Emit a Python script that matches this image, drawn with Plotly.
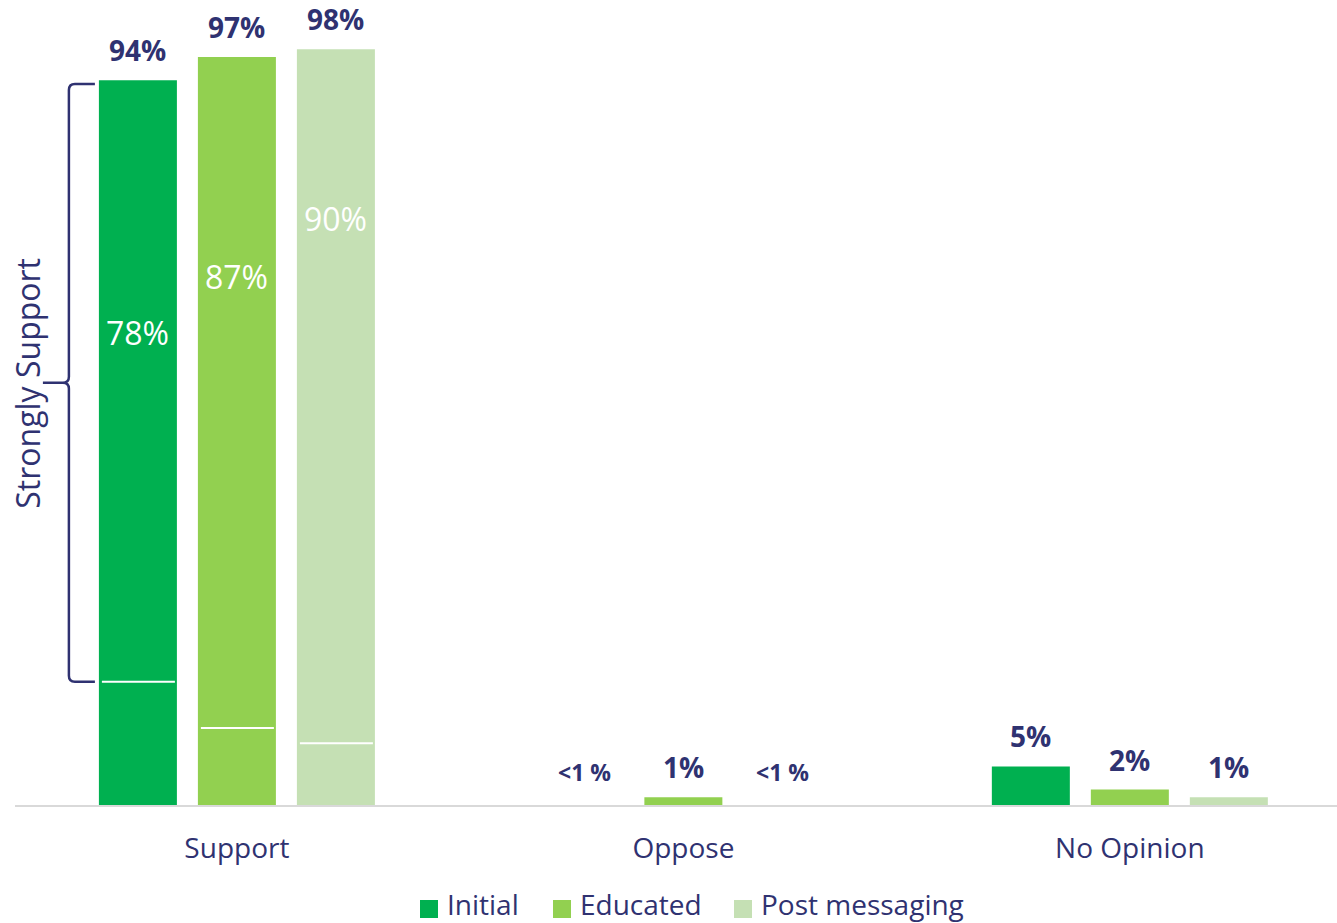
import plotly.graph_objects as go

# ---- data ----
categories = ["Support", "Oppose", "No Opinion"]
series_names = ["Initial", "Educated", "Post messaging"]
initial = [94, 0, 5]
educated = [97, 1, 2]
post_messaging = [98, 0, 1]
initial_labels = ["94%", "<1 %", "5%"]
educated_labels = ["97%", "1%", "2%"]
post_labels = ["98%", "<1 %", "1%"]
strongly_support = [78, 87, 90]          # share of "Support" that is strong
strongly_labels = ["78%", "87%", "90%"]

# ---- styling ----
COLORS = ["#00B050", "#92D050", "#C5E0B4"]
NAVY = "#2F3271"
FONT = "Open Sans"
W, H = 1337, 923
M_L, M_R, M_T, M_B = 15, 0, 0, 118
PLOT_W = W - M_L - M_R
PLOT_H = H - M_T - M_B
X_MIN, X_MAX = -0.497, 2.464
Y_MAX = 104.4
XPX = (X_MAX - X_MIN) / PLOT_W   # x units per pixel
YPX = Y_MAX / PLOT_H             # y units per pixel
BAR_W = 78 * XPX
STEP = 99 * XPX
OFFSETS = [-STEP, 0, STEP]
STRONG_LABEL_Y = [61.3, 68.5, 76.0]  # where the inner percentages sit

# legend layout, in pixels from the page's top-left corner
LEGEND_SWATCH_X = [420, 553, 734]
LEGEND_Y = 909
SWATCH = 18


def paper_x(px):
    return (px - M_L) / PLOT_W


def paper_y(py):
    return (H - M_B - py) / PLOT_H


values = [initial, educated, post_messaging]
labels = [initial_labels, educated_labels, post_labels]

fig = go.Figure()
annotations = []
shapes = []

for s, name in enumerate(series_names):
    xs = [i + OFFSETS[s] for i in range(len(categories))]
    fig.add_trace(go.Bar(
        x=xs, y=values[s], width=BAR_W, name=name,
        marker=dict(color=COLORS[s], line=dict(width=0)),
        showlegend=False, hoverinfo="skip",
    ))
    for i, v in enumerate(values[s]):
        small = "<" in labels[s][i]
        annotations.append(dict(
            x=xs[i], y=v, xref="x", yref="y", text=labels[s][i],
            showarrow=False, yanchor="middle", yshift=30 if not small else 33,
            borderpad=0,
            font=dict(family=FONT, size=28 if not small else 23,
                      color=NAVY, weight="bold"),
        ))

    # strongly-support segment boundary inside the Support bar
    total = values[s][0]
    boundary = total - strongly_support[s]
    x0 = xs[0] - BAR_W / 2
    shapes.append(dict(
        type="line", xref="x", yref="y",
        x0=x0 + 3 * XPX, x1=x0 + BAR_W - 2 * XPX, y0=boundary, y1=boundary,
        line=dict(color="white", width=2),
    ))
    annotations.append(dict(
        x=xs[0], y=STRONG_LABEL_Y[s], xref="x", yref="y",
        text=strongly_labels[s], showarrow=False,
        font=dict(family=FONT, size=32, color="white"),
    ))

    # legend entry: colour swatch + name
    sx = LEGEND_SWATCH_X[s]
    shapes.append(dict(
        type="rect", xref="paper", yref="paper",
        x0=paper_x(sx), x1=paper_x(sx + SWATCH),
        y0=paper_y(LEGEND_Y + SWATCH / 2), y1=paper_y(LEGEND_Y - SWATCH / 2),
        fillcolor=COLORS[s], line=dict(width=0),
    ))
    annotations.append(dict(
        x=paper_x(sx + SWATCH + 8), y=paper_y(LEGEND_Y - 5),
        xref="paper", yref="paper", text=name, showarrow=False,
        xanchor="left", yanchor="middle", borderpad=0,
        font=dict(family=FONT, size=28, color=NAVY),
    ))

# curly bracket spanning the strong segment of the first Support bar
bar_left = OFFSETS[0] - BAR_W / 2
y_top = initial[0] - 0.5
y_bot = initial[0] - strongly_support[0]
y_mid = (y_top + y_bot) / 2
xe = bar_left - 4 * XPX
xv = bar_left - 30 * XPX
xt = bar_left - 56 * XPX
rx, ry = 6 * XPX, 6 * YPX
path = (f"M {xe},{y_top} L {xv + rx},{y_top} Q {xv},{y_top} {xv},{y_top - ry} "
        f"L {xv},{y_mid + ry} Q {xv},{y_mid} {xv - rx},{y_mid} L {xt},{y_mid} "
        f"L {xv - rx},{y_mid} Q {xv},{y_mid} {xv},{y_mid - ry} "
        f"L {xv},{y_bot + ry} Q {xv},{y_bot} {xv + rx},{y_bot} L {xe},{y_bot}")
shapes.append(dict(type="path", xref="x", yref="y", path=path,
                   line=dict(color=NAVY, width=2.5)))
annotations.append(dict(
    x=bar_left - 71 * XPX, y=y_mid, xref="x", yref="y",
    text="Strongly Support", textangle=-90, showarrow=False,
    xanchor="center", yanchor="middle",
    font=dict(family=FONT, size=32, color=NAVY),
))

fig.update_layout(
    width=W, height=H,
    margin=dict(l=M_L, r=M_R, t=M_T, b=M_B, autoexpand=False),
    plot_bgcolor="white", paper_bgcolor="white",
    barmode="overlay", showlegend=False,
    font=dict(family=FONT, color=NAVY),
    annotations=annotations, shapes=shapes,
    xaxis=dict(range=[X_MIN, X_MAX], tickvals=list(range(len(categories))),
               ticktext=categories, showgrid=False, zeroline=False,
               showline=True, linecolor="#D9D9D9", linewidth=2, ticks="",
               ticklabelstandoff=17, automargin=False,
               tickfont=dict(family=FONT, size=28, color=NAVY), fixedrange=True),
    yaxis=dict(range=[0, Y_MAX], visible=False, showgrid=False,
               zeroline=False, fixedrange=True, automargin=False),
)

fig.write_html("out.html")
